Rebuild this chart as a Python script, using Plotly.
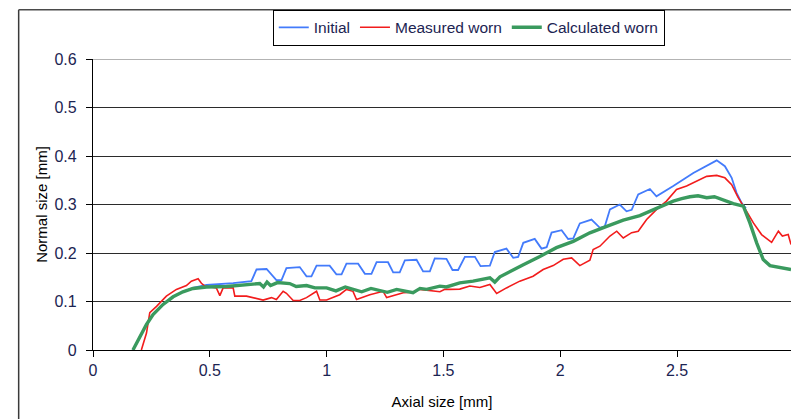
import plotly.graph_objects as go

# ---------------- data ----------------
initial_x = [0.171, 0.200, 0.229, 0.257, 0.300, 0.343, 0.385, 0.428, 0.486, 0.600, 0.678,
             0.700, 0.743, 0.785, 0.807, 0.828, 0.885, 0.914, 0.935, 0.957, 1.013, 1.042,
             1.064, 1.085, 1.135, 1.164, 1.192, 1.214, 1.263, 1.285, 1.313, 1.335, 1.385,
             1.413, 1.442, 1.463, 1.513, 1.539, 1.563, 1.592, 1.635, 1.659, 1.699, 1.720,
             1.770, 1.799, 1.820, 1.842, 1.891, 1.920, 1.942, 1.963, 2.006, 2.034, 2.056,
             2.084, 2.134, 2.170, 2.191, 2.213, 2.255, 2.284, 2.306, 2.334, 2.384, 2.412,
             2.484, 2.570, 2.627, 2.670, 2.705, 2.734, 2.755, 2.777, 2.795]
initial_y = [0.000, 0.028, 0.053, 0.073, 0.094, 0.110, 0.120, 0.128, 0.134, 0.138, 0.142,
             0.166, 0.167, 0.144, 0.144, 0.169, 0.171, 0.152, 0.152, 0.174, 0.174, 0.156,
             0.156, 0.178, 0.178, 0.157, 0.157, 0.181, 0.181, 0.160, 0.160, 0.185, 0.186,
             0.162, 0.162, 0.189, 0.188, 0.165, 0.165, 0.192, 0.192, 0.173, 0.174, 0.202,
             0.209, 0.190, 0.192, 0.221, 0.229, 0.209, 0.212, 0.242, 0.247, 0.229, 0.230,
             0.261, 0.269, 0.252, 0.255, 0.290, 0.300, 0.286, 0.289, 0.321, 0.332, 0.317,
             0.338, 0.365, 0.380, 0.391, 0.379, 0.355, 0.324, 0.303, 0.292]

measured_x = [0.207, 0.229, 0.243, 0.272, 0.314, 0.357, 0.400, 0.421, 0.450, 0.464, 0.478,
              0.528, 0.543, 0.557, 0.600, 0.607, 0.657, 0.685, 0.728, 0.764, 0.785, 0.814,
              0.828, 0.857, 0.885, 0.914, 0.957, 0.971, 1.000, 1.056, 1.085, 1.113, 1.128,
              1.185, 1.242, 1.257, 1.328, 1.370, 1.399, 1.485, 1.506, 1.527, 1.570, 1.613,
              1.656, 1.699, 1.728, 1.770, 1.827, 1.884, 1.927, 1.970, 2.013, 2.049, 2.084,
              2.127, 2.141, 2.170, 2.213, 2.242, 2.270, 2.306, 2.334, 2.370, 2.413, 2.455,
              2.498, 2.541, 2.584, 2.627, 2.670, 2.705, 2.734, 2.762, 2.798, 2.827, 2.862,
              2.905, 2.934, 2.951, 2.976, 2.988]
measured_y = [0.000, 0.035, 0.077, 0.090, 0.111, 0.125, 0.133, 0.142, 0.147, 0.1375, 0.132,
              0.128, 0.112, 0.128, 0.128, 0.111, 0.111, 0.108, 0.103, 0.108, 0.104, 0.121,
              0.117, 0.102, 0.102, 0.108, 0.121, 0.103, 0.103, 0.114, 0.125, 0.121, 0.104,
              0.114, 0.121, 0.108, 0.118, 0.119, 0.125, 0.120, 0.125, 0.125, 0.1255, 0.132,
              0.129, 0.135, 0.1165, 0.128, 0.142, 0.152, 0.166, 0.174, 0.187, 0.190, 0.174,
              0.185, 0.207, 0.214, 0.235, 0.245, 0.231, 0.242, 0.245, 0.269, 0.290, 0.307,
              0.331, 0.338, 0.348, 0.358, 0.360, 0.355, 0.341, 0.314, 0.286, 0.262, 0.238,
              0.222, 0.245, 0.235, 0.238, 0.2175]

calculated_x = [0.171, 0.200, 0.229, 0.257, 0.300, 0.343, 0.385, 0.428, 0.486, 0.571, 0.657,
                0.714, 0.730, 0.745, 0.760, 0.790, 0.842, 0.870, 0.914, 0.950, 1.000, 1.040,
                1.080, 1.113, 1.150, 1.190, 1.228, 1.260, 1.300, 1.328, 1.370, 1.400, 1.428,
                1.485, 1.513, 1.570, 1.627, 1.699, 1.720, 1.742, 1.785, 1.842, 1.913, 1.984,
                2.056, 2.127, 2.199, 2.270, 2.341, 2.413, 2.484, 2.520, 2.555, 2.590, 2.627,
                2.660, 2.698, 2.741, 2.784, 2.812, 2.841, 2.869, 2.898, 2.941, 2.988]
calculated_y = [0.000, 0.028, 0.0526, 0.073, 0.094, 0.1097, 0.120, 0.1268, 0.130, 0.131, 0.135,
                0.137, 0.130, 0.140, 0.133, 0.139, 0.137, 0.131, 0.133, 0.128, 0.128, 0.122,
                0.130, 0.126, 0.120, 0.127, 0.123, 0.119, 0.125, 0.1227, 0.118, 0.127, 0.125,
                0.1316, 0.130, 0.1385, 0.142, 0.149, 0.140, 0.151, 0.1625, 0.176, 0.193, 0.211,
                0.224, 0.2416, 0.255, 0.2676, 0.277, 0.293, 0.307, 0.312, 0.316, 0.318, 0.314,
                0.316, 0.309, 0.302, 0.2966, 0.262, 0.221, 0.1866, 0.174, 0.1695, 0.166]

x_tick_vals = [0, 0.5, 1, 1.5, 2, 2.5]
x_tick_text = ["0", "0.5", "1", "1.5", "2", "2.5"]
y_tick_vals = [0, 0.1, 0.2, 0.3, 0.4, 0.5, 0.6]
y_tick_text = ["0", "0.1", "0.2", "0.3", "0.4", "0.5", "0.6"]

# ---------------- figure ----------------
FONT = "Liberation Sans, Arial, sans-serif"
TICK_COLOR = "#1c2452"

fig = go.Figure()
fig.add_trace(go.Scatter(x=initial_x, y=initial_y, mode="lines", name="Initial",
                         line=dict(color="#437bfb", width=1.8)))
fig.add_trace(go.Scatter(x=measured_x, y=measured_y, mode="lines", name="Measured worn",
                         line=dict(color="#f21c1c", width=1.6)))
fig.add_trace(go.Scatter(x=calculated_x, y=calculated_y, mode="lines", name="Calculated worn",
                         line=dict(color="#3a9a5e", width=3.4)))

ml, mt, mb = 93.3, 59.3, 68.5
W, H = 791, 419
pw = W - ml
ph = H - mt - mb

def px2paper_x(px):
    return (px - ml) / pw

def px2paper_y(py):
    return (H - mb - py) / ph

fig.update_layout(
    width=W, height=H,
    margin=dict(l=ml, r=0, t=mt, b=mb, pad=0, autoexpand=False),
    paper_bgcolor="white", plot_bgcolor="white",
    font=dict(family=FONT, size=15, color="black"),
    showlegend=True,
    legend=dict(
        orientation="h",
        x=px2paper_x(273), xanchor="left",
        y=px2paper_y(10), yanchor="top",
        bgcolor="white", bordercolor="black", borderwidth=1,
        font=dict(family=FONT, size=15.5, color=TICK_COLOR),
        itemwidth=30, tracegroupgap=0,
    ),
    xaxis=dict(
        range=[0, 2.988], automargin=False,
        tickmode="array", tickvals=x_tick_vals, ticktext=x_tick_text,
        ticks="outside", ticklen=6, tickcolor="black", tickwidth=1.2,
        showline=True, linecolor="black", linewidth=1.3,
        showgrid=False, zeroline=False,
        tickfont=dict(family=FONT, size=16, color=TICK_COLOR),
        title=dict(text="Axial size [mm]", font=dict(family=FONT, size=15, color="black"),
                   standoff=18),
    ),
    yaxis=dict(
        range=[0, 0.6], automargin=False,
        tickmode="array", tickvals=y_tick_vals, ticktext=y_tick_text,
        ticks="outside", ticklen=6, tickcolor="black", tickwidth=1.2,
        showline=True, linecolor="black", linewidth=1.3,
        showgrid=True, gridcolor="#2b2b2b", gridwidth=1.3,
        zeroline=False,
        tickfont=dict(family=FONT, size=16, color=TICK_COLOR),
        ticklabelstandoff=6,
        title=dict(text="Normal size [mm]", font=dict(family=FONT, size=15, color="black"),
                   standoff=3),
    ),
    shapes=[
        # lighter top gridline at 0.6
        dict(type="line", xref="paper", yref="y", x0=0, x1=1, y0=0.6, y1=0.6,
             line=dict(color="#9a9a9a", width=1.3), layer="above"),
        # outer frame (left and top edges)
        dict(type="line", xref="paper", yref="paper",
             x0=px2paper_x(19), x1=px2paper_x(19), y0=px2paper_y(430), y1=px2paper_y(10),
             line=dict(color="#3a3a3a", width=1.5)),
        dict(type="line", xref="paper", yref="paper",
             x0=px2paper_x(19), x1=1.05, y0=px2paper_y(10), y1=px2paper_y(10),
             line=dict(color="#4a4a4a", width=1.5)),
    ],
)

fig.write_html(
    "out.html",
    config={"displayModeBar": False},
    post_script="document.body.style.margin='0';document.body.style.overflow='hidden';",
)
